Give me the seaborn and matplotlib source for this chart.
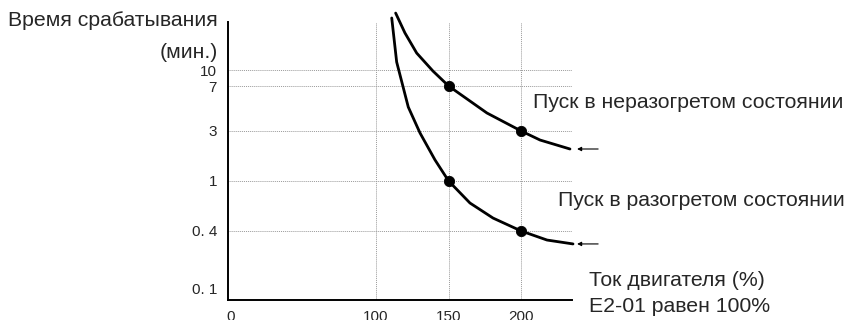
import numpy as np
import pandas as pd
import matplotlib
matplotlib.use("Agg")
import matplotlib.pyplot as plt
import seaborn as sns

# schematic (non-log) time axis: tick values and where they sit
tick_vals = [0.1, 0.4, 1, 3, 7, 10]
tick_labels = ["0. 1", "0. 4", "1", "3", "7", "10"]
tick_pos = [12, 69, 119, 169, 214, 230]
grid_y = [0.4, 1, 3, 7, 10]

x_ticks = [0, 100, 150, 200]
grid_x = [100, 150, 200]

# cold start curve (current %, minutes)
cold_x = [113.5, 119.9, 128.0, 139.2, 150, 176.4, 200, 213, 233.6]
cold_y = [35.7, 22.9, 14.6, 9.77, 7, 4.21, 3, 2.46, 2.02]

# hot start curve
hot_x = [110.8, 114.2, 122.2, 130.3, 140.6, 150, 164.7, 180.6, 200, 217.8, 235.7]
hot_y = [32.0, 11.96, 4.71, 2.87, 1.59, 1, 0.668, 0.507, 0.4, 0.321, 0.292]

dot_x = [150, 200, 150, 200]
dot_y = [7, 3, 1, 0.4]

anc_log = np.log10([0.01] + tick_vals + [100])
anc_pos = np.array([-83] + tick_pos + [333], dtype=float)


def fwd(v):
    v = np.clip(np.asarray(v, dtype=float), 1e-6, None)
    return np.interp(np.log10(v), anc_log, anc_pos)


def inv(p):
    return 10 ** np.interp(np.asarray(p, dtype=float), anc_pos, anc_log)


sns.set_style("white")
plt.rcParams["font.family"] = ["Liberation Sans", "DejaVu Sans"]

fig = plt.figure(figsize=(8.48, 3.2), dpi=100)
ax = fig.add_axes([228 / 848, 20 / 320, 344 / 848, 278 / 320])
ax.set_yscale("function", functions=(fwd, inv))
ax.set_xlim(-2, 235)
ax.set_ylim(inv(0), inv(278))

for gy in grid_y:
    ax.axhline(gy, color="#9a9a9a", lw=0.7, ls=(0, (1, 1)), zorder=0)
for gx in grid_x:
    ax.axvline(gx, color="#9a9a9a", lw=0.7, ls=(0, (1, 1)), zorder=0)

cold = pd.DataFrame({"x": cold_x, "y": cold_y})
hot = pd.DataFrame({"x": hot_x, "y": hot_y})
dots = pd.DataFrame({"x": dot_x, "y": dot_y})

sns.lineplot(data=cold, x="x", y="y", ax=ax, color="black", lw=2, sort=False,
             clip_on=False)
sns.lineplot(data=hot, x="x", y="y", ax=ax, color="black", lw=2, sort=False,
             clip_on=False)
sns.scatterplot(data=dots, x="x", y="y", ax=ax, color="black", s=55,
                edgecolor="black", zorder=5)

ax.set_yticks(tick_vals)
ax.set_yticklabels(tick_labels)
ax.set_xticks(x_ticks)
ax.set_xticklabels([str(v) for v in x_ticks])
ax.tick_params(axis="both", length=0, labelsize=11)
ax.tick_params(axis="y", pad=8)
ax.tick_params(axis="x", pad=7)
ax.set_xlabel("")
ax.set_ylabel("")
ax.minorticks_off()

for s in ["top", "right"]:
    ax.spines[s].set_visible(False)
for s in ["left", "bottom"]:
    ax.spines[s].set_color("black")
    ax.spines[s].set_linewidth(1.4)

# arrows at curve ends
for yv in [cold_y[-1], hot_y[-1]]:
    ax.annotate("", xy=(238.5, yv), xytext=(253, yv), xycoords="data",
                arrowprops=dict(arrowstyle="-|>", color="black", lw=0.8,
                                mutation_scale=6, shrinkA=0, shrinkB=0),
                annotation_clip=False)

fs = 15.3
fig.text(218 / 848, 1 - 20 / 320, "Время срабатывания", ha="right",
         va="center", fontsize=fs)
fig.text(218 / 848, 1 - 53 / 320, "(мин.)", ha="right", va="center",
         fontsize=fs)
fig.text(533 / 848, 1 - 103 / 320, "Пуск в неразогретом состоянии",
         ha="left", va="center", fontsize=fs)
fig.text(558 / 848, 1 - 200 / 320, "Пуск в разогретом состоянии",
         ha="left", va="center", fontsize=fs)
fig.text(589 / 848, 1 - 280 / 320, "Ток двигателя (%)", ha="left",
         va="center", fontsize=fs)
fig.text(589 / 848, 1 - 306 / 320, "E2-01 равен 100%", ha="left",
         va="center", fontsize=fs)

fig.savefig("out.png", dpi=100)
